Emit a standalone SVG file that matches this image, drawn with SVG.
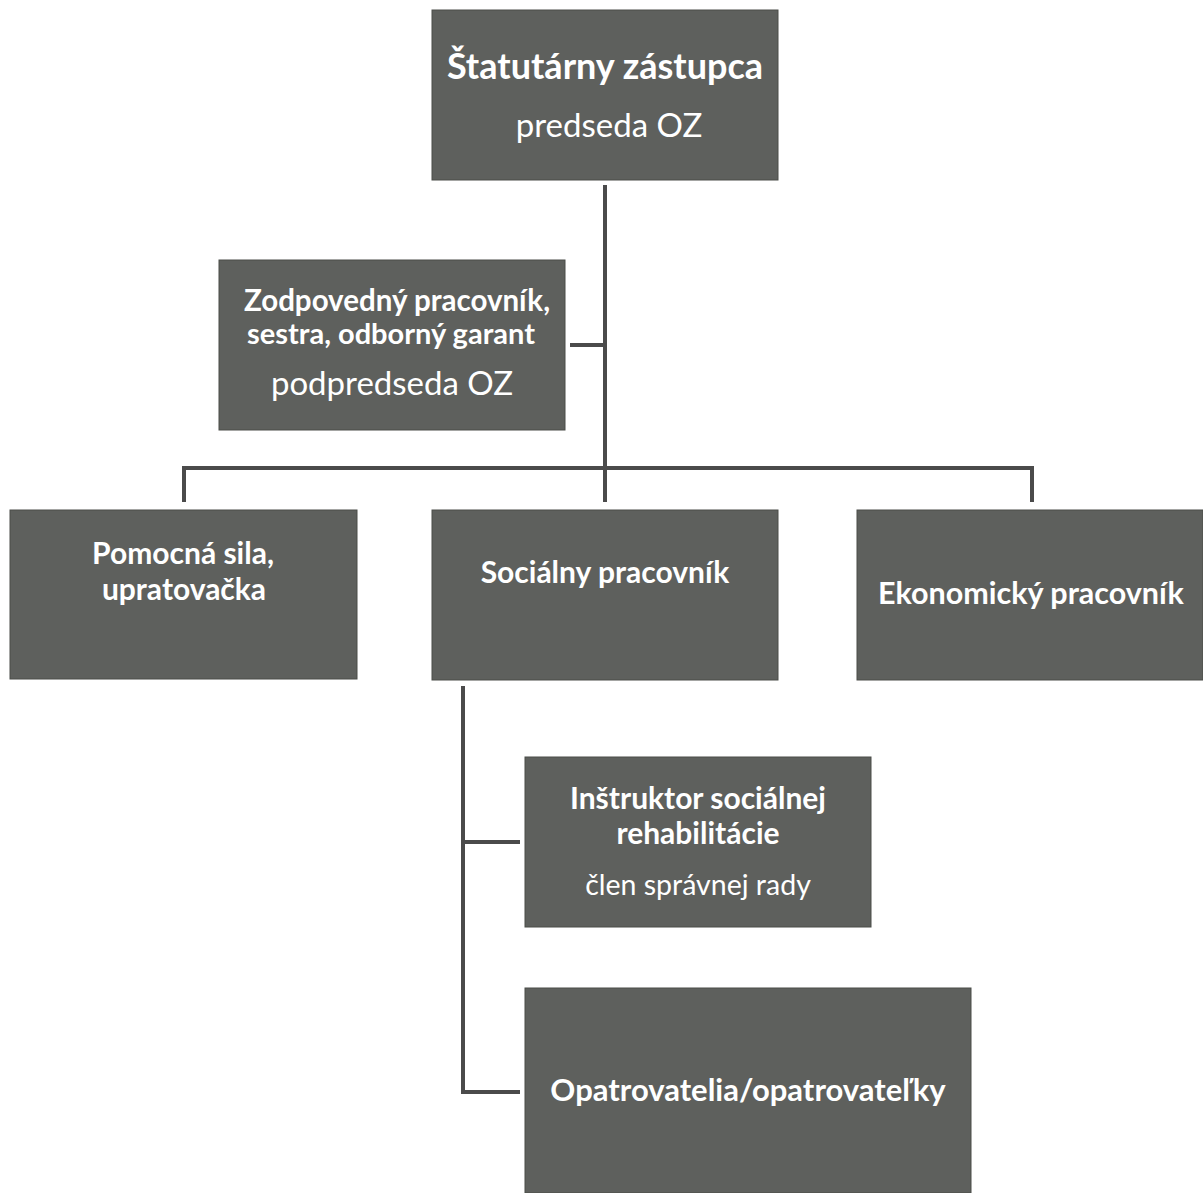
<svg xmlns="http://www.w3.org/2000/svg" width="1203" height="1193" viewBox="0 0 1203 1193">
<style>
.box{fill:#5e605d;stroke:#4a4c49;stroke-width:1}
.b{font-family:Lato,"Open Sans","Liberation Sans",sans-serif;font-weight:bold;fill:#ffffff;text-anchor:middle;font-size:30px}
.n{font-family:Lato,"Open Sans","Liberation Sans",sans-serif;font-weight:normal;fill:#ffffff;text-anchor:middle;font-size:33px}
.c{fill:none;stroke:#4b4b4b;stroke-width:4}
</style>
<rect width="1203" height="1193" fill="#ffffff"/>
<g id="connectors">
<path class="c" d="M605 185V502"/>
<path class="c" d="M570 345H605"/>
<path class="c" d="M184 502V468H1032V502"/>
<path class="c" d="M463 686V1092H520"/>
<path class="c" d="M463 842H520"/>
</g>
<g id="n1">
<rect class="box" x="432" y="10" width="346" height="170"/>
<text class="b" x="605" y="79" style="font-size:36px">Štatutárny zástupca</text>
<text class="n" x="609" y="137">predseda OZ</text>
</g>
<g id="n2">
<rect class="box" x="219" y="260" width="346" height="170"/>
<text class="b" x="397" y="311" style="font-size:29.5px">Zodpovedný pracovník,</text>
<text class="b" x="391" y="344" style="font-size:29px">sestra, odborný garant</text>
<text class="n" x="392" y="395">podpredseda OZ</text>
</g>
<g id="n3">
<rect class="box" x="10" y="510" width="347" height="169"/>
<text class="b" x="183" y="564">Pomocná sila,</text>
<text class="b" x="184" y="600">upratovačka</text>
</g>
<g id="n4">
<rect class="box" x="432" y="510" width="346" height="170"/>
<text class="b" x="605" y="583">Sociálny pracovník</text>
</g>
<g id="n5">
<rect class="box" x="857" y="510" width="346" height="170"/>
<text class="b" x="1031" y="604" style="font-size:30.5px">Ekonomický pracovník</text>
</g>
<g id="n6">
<rect class="box" x="525" y="757" width="346" height="170"/>
<text class="b" x="698" y="809">Inštruktor sociálnej</text>
<text class="b" x="698" y="844">rehabilitácie</text>
<text class="n" x="698" y="895" style="font-size:28.5px">člen správnej rady</text>
</g>
<g id="n7">
<rect class="box" x="525" y="988" width="446" height="205"/>
<text class="b" x="748" y="1101" style="font-size:31px">Opatrovatelia/opatrovateľky</text>
</g>
</svg>
